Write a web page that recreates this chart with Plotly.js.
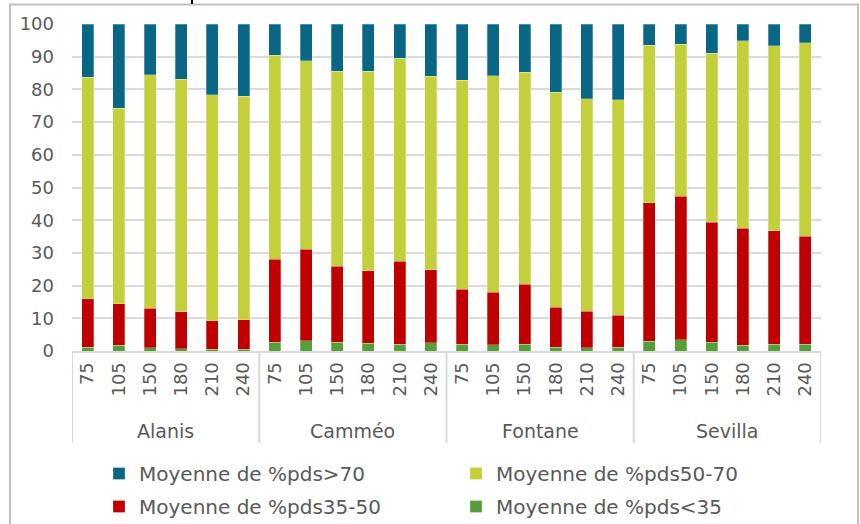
<!DOCTYPE html>
<html>
<head>
<meta charset="utf-8">
<script src="https://cdn.plot.ly/plotly-3.0.1.min.js"></script>
<style>
html,body{margin:0;padding:0;background:#fff;}
#chart{width:860px;height:524px;}
</style>
</head>
<body>
<div id="chart"></div>
<script>
// Categories
const varieties = ['Alanis', 'Camméo', 'Fontane', 'Sevilla'];
const doses = ['75', '105', '150', '180', '210', '240'];

// Series values (%), in order Alanis 75..240, Camméo 75..240, Fontane 75..240, Sevilla 75..240
const pdsBelow35 = [1.1, 1.7, 1.0, 0.7, 0.5, 0.5,
                    2.7, 3.2, 2.7, 2.3, 2.0, 2.6,
                    2.1, 1.9, 2.1, 1.1, 1.0, 1.1,
                    3.0, 3.5, 2.7, 1.7, 2.1, 2.1];
const pds35to50 = [14.9, 12.7, 12.0, 11.3, 8.7, 9.0,
                   25.3, 27.9, 23.2, 22.3, 25.4, 22.3,
                   16.8, 16.1, 18.3, 12.3, 11.1, 9.9,
                   42.3, 43.9, 36.6, 35.8, 34.6, 33.0];
const pds50to70 = [67.7, 59.8, 71.5, 71.1, 69.1, 68.4,
                   62.4, 57.7, 59.7, 61.0, 62.2, 59.1,
                   63.9, 66.1, 64.8, 65.8, 65.0, 65.9,
                   48.2, 46.4, 51.7, 57.4, 56.7, 59.1];
const pdsAbove70 = [16.3, 25.8, 15.5, 16.9, 21.7, 22.1,
                    9.6, 11.2, 14.4, 14.4, 10.4, 16.0,
                    17.2, 15.9, 14.8, 20.8, 22.9, 23.1,
                    6.5, 6.2, 9.0, 5.1, 6.6, 5.8];

const seriesNames = ['Moyenne de %pds<35', 'Moyenne de %pds35-50', 'Moyenne de %pds50-70', 'Moyenne de %pds>70'];
const yTicks = [0, 10, 20, 30, 40, 50, 60, 70, 80, 90, 100];

// Build category positions (index along the axis) and labels from the arrays
const xPos = [], xLabels = [];
varieties.forEach((v, g) => doses.forEach((d, j) => {
  xPos.push(g * doses.length + j);
  xLabels.push(d);
}));
const nCats = xPos.length;

const colors = ['#559E3A', '#C00000', '#C3D03B', '#096785'];
const values = [pdsBelow35, pds35to50, pds50to70, pdsAbove70];
const legends = ['legend2', 'legend2', 'legend', 'legend'];

const FONT = 'DejaVu Sans, sans-serif';
const GREY = '#595959';
const traces = values.map((vals, i) => ({
  type: 'bar',
  x: xPos,
  y: vals,
  name: seriesNames[i],
  legend: legends[i],
  customdata: xLabels.map((d, k) => varieties[Math.floor(k / doses.length)] + ' ' + d),
  hovertemplate: '%{customdata}: %{y}<extra>' + seriesNames[i] + '</extra>',
  marker: {color: colors[i], line: {color: 'rgba(255,255,255,0.45)', width: 0.6}}
}));

// Pixel helpers for the plot area (for decorations only)
const L = 72, R = 39, T = 24, B = 173;
const PW = 860 - L - R, PH = 524 - T - B;
const py = p => (524 - B - p) / PH;   // pixel y -> paper y
const px = p => (p - L) / PW;         // pixel x -> paper x

// Group dividers and labels (axis decoration)
const shapes = [];
for (let g = 0; g <= varieties.length; g++) {
  const xv = g * doses.length - 0.5;
  shapes.push({type: 'line', xref: 'x', yref: 'paper', x0: xv, x1: xv,
               y0: 0, y1: py(443), line: {color: '#d9d9d9', width: 2}});
}
shapes.push({type: 'rect', xref: 'paper', yref: 'paper',
             x0: px(10), x1: px(858), y0: py(540), y1: py(4.5),
             line: {color: '#bfbfbf', width: 2}, fillcolor: 'rgba(0,0,0,0)', layer: 'below'});
shapes.push({type: 'line', xref: 'paper', yref: 'paper',
             x0: px(192), x1: px(192), y0: py(4), y1: py(-2),
             line: {color: '#000000', width: 2}});

const annotations = varieties.map((v, g) => ({
  text: v, xref: 'x', yref: 'paper',
  x: g * doses.length + (doses.length - 1) / 2, y: py(431),
  xanchor: 'center', yanchor: 'middle', showarrow: false,
  font: {family: FONT, size: 19, color: GREY}
}));

const legendBase = {
  orientation: 'h', traceorder: 'reversed',
  xref: 'container', yref: 'container',
  x: 99 / 860, xanchor: 'left', yanchor: 'top',
  entrywidth: 312, entrywidthmode: 'pixels',
  font: {family: FONT, size: 20, color: GREY},
  bgcolor: 'rgba(0,0,0,0)'
};

const layout = {
  width: 860, height: 524,
  margin: {l: L, r: R, t: T, b: B, pad: 0},
  paper_bgcolor: '#ffffff',
  plot_bgcolor: '#ffffff',
  barmode: 'stack',
  bargap: 0.615,
  font: {family: FONT, size: 18, color: GREY},
  showlegend: true,
  xaxis: {
    range: [-0.5, nCats - 0.5],
    tickmode: 'array', tickvals: xPos, ticktext: xLabels,
    tickangle: -90,
    tickfont: {family: FONT, size: 18, color: GREY},
    showline: true, linecolor: '#d9d9d9', linewidth: 2,
    showgrid: false, zeroline: false, ticks: '',
    ticklabelstandoff: 2,
    fixedrange: true
  },
  yaxis: {
    range: [0, 100],
    tickvals: yTicks,
    ticktext: yTicks.map(String),
    tickfont: {family: FONT, size: 18, color: GREY},
    showgrid: true, gridcolor: '#d9d9d9', gridwidth: 2,
    zeroline: false, showline: false, ticks: '',
    ticklabelstandoff: 17,
    fixedrange: true
  },
  legend: Object.assign({}, legendBase, {y: 1 - 454 / 524}),
  legend2: Object.assign({}, legendBase, {y: 1 - 487 / 524}),
  shapes: shapes,
  annotations: annotations
};

Plotly.newPlot('chart', traces, layout, {displayModeBar: false});
</script>
</body>
</html>
